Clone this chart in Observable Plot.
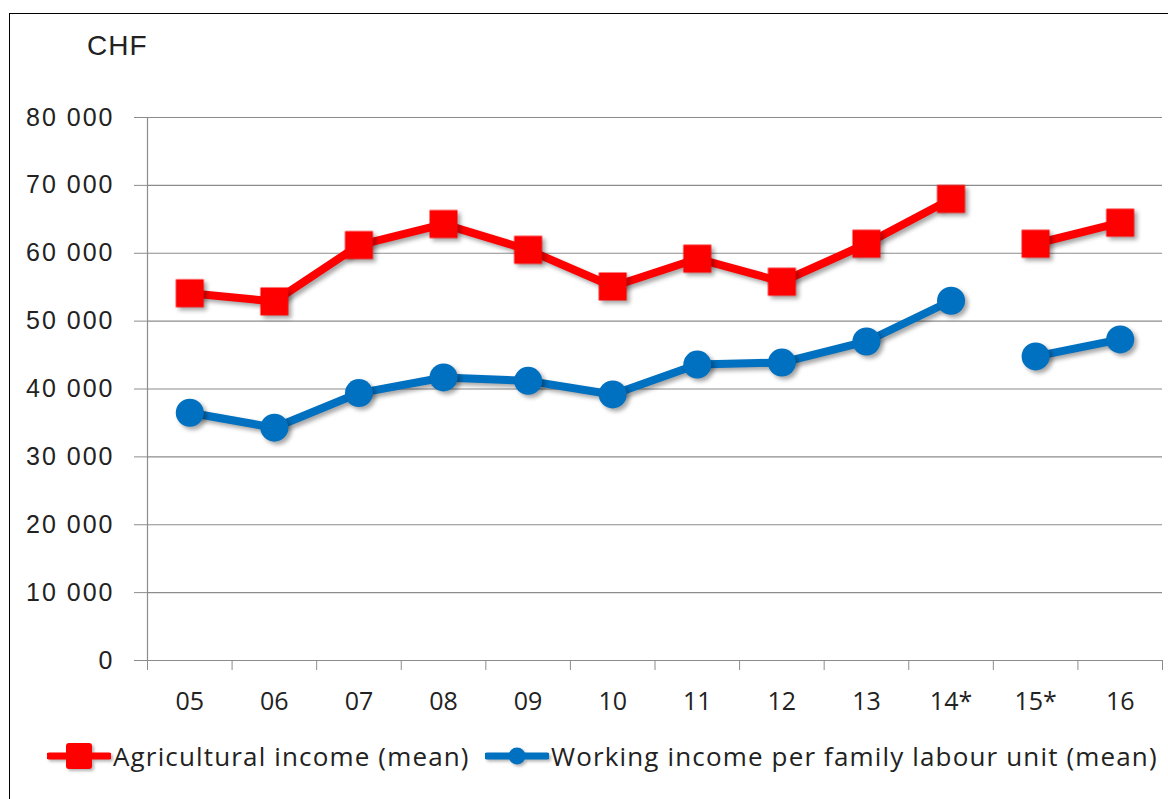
<!DOCTYPE html>
<html>
<head>
<meta charset="utf-8">
<script src="https://cdn.jsdelivr.net/npm/d3@7"></script>
<script src="https://cdn.jsdelivr.net/npm/@observablehq/plot@0.6"></script>
<style>
  html, body { margin: 0; padding: 0; background: #fff; overflow: hidden; }
  #frame { position: absolute; left: 9px; top: 13px; width: 1180px; height: 820px; border: 1px solid #000; box-sizing: border-box; }
  #chart { position: absolute; left: 0; top: 0; }
  #unit { position: absolute; left: 87px; top: 30px; font: 28px "Liberation Sans", Arial, sans-serif; letter-spacing: 1px; color: #222; }
  .leg { position: absolute; top: 738px; font: 26px "Open Sans", sans-serif; letter-spacing: 1.15px; color: #222; display: flex; align-items: center; white-space: nowrap; }
  .leg svg { margin-right: 2px; filter: drop-shadow(2px 2px 1.5px rgba(0,0,0,0.3)); }
  #chart g[aria-label="line"], #chart g[aria-label="dot"] { filter: drop-shadow(3px 3px 2px rgba(0,0,0,0.35)); }
  #chart g[aria-label="y-axis tick label"] text { letter-spacing: 2px; }
</style>
</head>
<body>
<div id="frame"></div>
<div id="chart"></div>
<div id="unit">CHF</div>
<div class="leg" id="leg1" style="left:47px"></div>
<div class="leg" id="leg2" style="left:485px"></div>
<script>
const years = ["05","06","07","08","09","10","11","12","13","14*","15*","16"];
const segment = [0,0,0,0,0,0,0,0,0,0,1,1];
const agricultural = [54100, 52900, 61200, 64300, 60500, 55100, 59200, 55800, 61400, 68000, 61400, 64500];
const working = [36500, 34300, 39400, 41700, 41200, 39200, 43600, 43900, 47000, 53000, 44800, 47300];
const seriesNames = ["Agricultural income (mean)", "Working income per family labour unit (mean)"];
const seriesColors = ["#ff0000", "#0070c0"];
const yTicks = [0, 10000, 20000, 30000, 40000, 50000, 60000, 70000, 80000];

const rows = [];
years.forEach((y, i) => {
  rows.push({i, year: y, seg: segment[i], series: seriesNames[0], value: agricultural[i]});
  rows.push({i, year: y, seg: segment[i], series: seriesNames[1], value: working[i]});
});
const fmt = d => d3.format(",")(d).replace(/,/g, " ");
const bounds = d3.range(years.length + 1);

const chart = Plot.plot({
  width: 1168,
  height: 720,
  marginLeft: 147,
  marginRight: 6,
  marginTop: 117,
  marginBottom: 60,
  x: {domain: [0, years.length], axis: null},
  y: {domain: [0, 80000], axis: null},
  color: {domain: seriesNames, range: seriesColors},
  marks: [
    Plot.ruleY(yTicks, {stroke: "#8c8c8c", strokeWidth: 1.2}),
    Plot.ruleX([0], {stroke: "#8c8c8c", strokeWidth: 1.2}),
    Plot.axisY({ticks: yTicks, tickFormat: fmt, tickSize: 13, tickPadding: 20, stroke: "#8c8c8c", label: null,
      fontSize: 25, fontFamily: "Liberation Sans, Arial, sans-serif", color: "#222"}),
    Plot.axisX({ticks: bounds, tickFormat: () => "", tickSize: 10, stroke: "#8c8c8c", label: null}),
    Plot.axisX({ticks: years.map((d, i) => i + 0.5), tickFormat: (d) => years[Math.floor(d)], tickSize: 0, tickPadding: 32, label: null,
      fontSize: 25, fontFamily: "Open Sans, sans-serif", color: "#222"}),
    Plot.lineY(rows, {x: d => d.i + 0.5, y: "value", z: d => d.series + d.seg, stroke: "series", strokeWidth: 8, strokeLinejoin: "round"}),
    Plot.dot(rows.filter(d => d.series === seriesNames[0]), {x: d => d.i + 0.5, y: "value", symbol: "square", r: 15.8, fill: "series", stroke: null}),
    Plot.dot(rows.filter(d => d.series === seriesNames[1]), {x: d => d.i + 0.5, y: "value", symbol: "circle", r: 14, fill: "series", stroke: null})
  ]
});
document.getElementById("chart").appendChild(chart);

document.getElementById("leg1").innerHTML =
  `<svg width="64" height="30"><line x1="2" y1="15" x2="62" y2="15" stroke="${seriesColors[0]}" stroke-width="7" stroke-linecap="round"/><rect x="19" y="2" width="26" height="26" rx="3" fill="${seriesColors[0]}"/></svg><span>${seriesNames[0]}</span>`;
document.getElementById("leg2").innerHTML =
  `<svg width="64" height="30"><line x1="2" y1="15" x2="62" y2="15" stroke="${seriesColors[1]}" stroke-width="7" stroke-linecap="round"/><circle cx="32" cy="15" r="8.5" fill="${seriesColors[1]}"/></svg><span>${seriesNames[1]}</span>`;
</script>
</body>
</html>
